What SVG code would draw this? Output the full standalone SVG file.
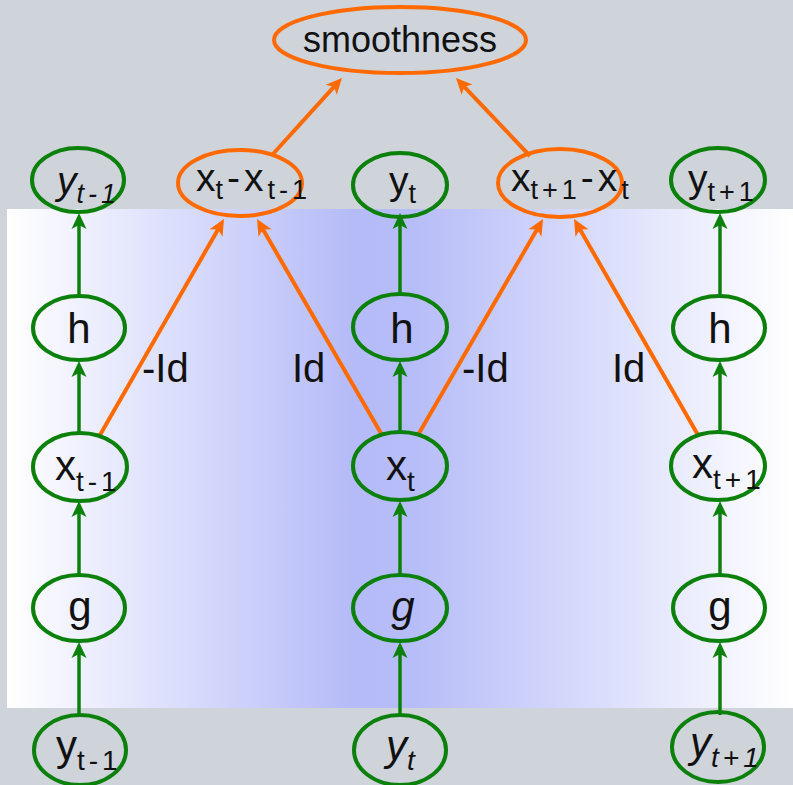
<svg xmlns="http://www.w3.org/2000/svg" width="793" height="785" viewBox="0 0 793 785">
  <style>
    .bg { fill: #CFD3DA; }
    .g-node { fill: none; stroke: #0B800B; stroke-width: 4; }
    .o-node { fill: none; stroke: #FF6A00; stroke-width: 4; }
    .g-edge { stroke: #0B800B; stroke-width: 3.5; fill: none; marker-end: url(#arrowG); }
    .o-edge { stroke: #FF6A00; stroke-width: 4; fill: none; marker-end: url(#arrowO); }
    text { font-family: "Liberation Sans", Arial, sans-serif; fill: #111111; }
    .big { font-size: 42px; }
    .top { font-size: 39px; }
    .sub { font-size: 28px; letter-spacing: 4px; }
    .subs { font-size: 27px; letter-spacing: 4px; }
    .it { font-style: italic; }
    .lbl { font-size: 40px; }
  </style>
  <defs>
    <linearGradient id="band" x1="0" y1="0" x2="1" y2="0">
      <stop offset="0" stop-color="#FFFFFF"/>
      <stop offset="0.44" stop-color="#B5BBF8"/>
      <stop offset="0.52" stop-color="#B7BDF8"/>
      <stop offset="1" stop-color="#FFFFFF"/>
    </linearGradient>
    <marker id="arrowG" markerUnits="userSpaceOnUse" viewBox="-10 -10 20 20" markerWidth="20" markerHeight="20" refX="0" refY="0" orient="auto">
      <path d="M8,0 L-8,-7.5 L-4,0 L-8,7.5 Z" fill="#0B800B"/>
    </marker>
    <marker id="arrowO" markerUnits="userSpaceOnUse" viewBox="-10 -10 20 20" markerWidth="20" markerHeight="20" refX="0" refY="0" orient="auto">
      <path d="M8,0 L-8,-7.5 L-4,0 L-8,7.5 Z" fill="#FF6A00"/>
    </marker>
  </defs>

  <!-- backdrop -->
  <rect class="bg" x="0" y="0" width="793" height="785"/>
  <rect x="7" y="209" width="786" height="499" fill="url(#band)"/>

  <!-- connectors -->
  <g id="edges">
    <!-- left column -->
    <line class="g-edge" x1="79" y1="715" x2="79" y2="650"/>
    <line class="g-edge" x1="79" y1="575" x2="79" y2="509"/>
    <line class="g-edge" x1="79" y1="432" x2="79" y2="369"/>
    <line class="g-edge" x1="79" y1="296" x2="79" y2="221"/>
    <!-- middle column -->
    <line class="g-edge" x1="400" y1="715" x2="400" y2="650"/>
    <line class="g-edge" x1="400" y1="575" x2="400" y2="509"/>
    <line class="g-edge" x1="400" y1="432" x2="400" y2="369"/>
    <line class="g-edge" x1="400" y1="296" x2="400" y2="221"/>
    <!-- right column -->
    <line class="g-edge" x1="720" y1="715" x2="720" y2="650"/>
    <line class="g-edge" x1="720" y1="575" x2="720" y2="509"/>
    <line class="g-edge" x1="720" y1="432" x2="720" y2="369"/>
    <line class="g-edge" x1="720" y1="296" x2="720" y2="221"/>
    <!-- differences -->
    <line class="o-edge" x1="100" y1="435" x2="220" y2="226"/>
    <line class="o-edge" x1="382" y1="435" x2="261" y2="226"/>
    <line class="o-edge" x1="418" y1="435" x2="539" y2="226"/>
    <line class="o-edge" x1="698" y1="435" x2="578" y2="226"/>
    <!-- into smoothness -->
    <line class="o-edge" x1="273" y1="154" x2="336.6" y2="83.9"/>
    <line class="o-edge" x1="530" y1="156" x2="461.5" y2="83.8"/>
  </g>

  <!-- edge weights -->
  <g id="weights">
    <text class="lbl" x="142" y="382">-Id</text>
    <text class="lbl" x="292" y="382">Id</text>
    <text class="lbl" x="462" y="382">-Id</text>
    <text class="lbl" x="612" y="382">Id</text>
  </g>

  <!-- objective -->
  <g id="smoothness">
    <ellipse class="o-node" cx="400" cy="40" rx="126" ry="33"/>
    <text class="top" x="400" y="52" font-size="36" text-anchor="middle" style="font-size:36px">smoothness</text>
  </g>

  <!-- top row -->
  <g id="y-out-prev">
    <ellipse class="g-node" cx="78" cy="180" rx="46" ry="32"/>
    <text class="top it" x="57" y="194">y<tspan class="subs" dy="9">t-1</tspan></text>
  </g>
  <g id="diff-prev">
    <ellipse class="o-node" cx="240" cy="183" rx="62" ry="33"/>
    <text class="top" x="196" y="191">x<tspan class="subs" dy="8">t</tspan><tspan dy="-8" letter-spacing="4">-x</tspan><tspan class="subs" dy="8">t-1</tspan></text>
  </g>
  <g id="y-out-cur">
    <ellipse class="g-node" cx="400" cy="185" rx="47" ry="32"/>
    <text class="top" x="389" y="194">y<tspan class="subs" dy="9">t</tspan></text>
  </g>
  <g id="diff-next">
    <ellipse class="o-node" cx="560" cy="183" rx="62" ry="34"/>
    <text class="top" x="511" y="191">x<tspan class="subs" dy="8">t+1</tspan><tspan dy="-8" letter-spacing="4">-x</tspan><tspan class="subs" dy="8">t</tspan></text>
  </g>
  <g id="y-out-next">
    <ellipse class="g-node" cx="718" cy="180" rx="47" ry="32"/>
    <text class="top" x="688" y="192">y<tspan class="subs" dy="9">t+1</tspan></text>
  </g>

  <!-- h row -->
  <g id="h-prev">
    <ellipse class="g-node" cx="79" cy="328" rx="46" ry="32"/>
    <text class="big" x="79" y="343" text-anchor="middle">h</text>
  </g>
  <g id="h-cur">
    <ellipse class="g-node" cx="400" cy="327" rx="47" ry="33"/>
    <text class="big" x="402" y="343" text-anchor="middle">h</text>
  </g>
  <g id="h-next">
    <ellipse class="g-node" cx="719" cy="328" rx="46" ry="32"/>
    <text class="big" x="720" y="343" text-anchor="middle">h</text>
  </g>

  <!-- x row -->
  <g id="x-prev">
    <ellipse class="g-node" cx="80" cy="467" rx="47" ry="34"/>
    <text class="big" x="55" y="480">x<tspan class="sub" dy="11">t-1</tspan></text>
  </g>
  <g id="x-cur">
    <ellipse class="g-node" cx="400" cy="466" rx="47" ry="34"/>
    <text class="big" x="386" y="480">x<tspan class="sub" dy="11">t</tspan></text>
  </g>
  <g id="x-next">
    <ellipse class="g-node" cx="718" cy="466" rx="47" ry="34"/>
    <text class="big" x="692" y="478">x<tspan class="sub" dy="11">t+1</tspan></text>
  </g>

  <!-- g row -->
  <g id="g-prev">
    <ellipse class="g-node" cx="79" cy="608" rx="46" ry="33"/>
    <text class="big" x="80" y="621" text-anchor="middle">g</text>
  </g>
  <g id="g-cur">
    <ellipse class="g-node" cx="400" cy="608" rx="47" ry="33"/>
    <text class="big it" x="403" y="621" text-anchor="middle">g</text>
  </g>
  <g id="g-next">
    <ellipse class="g-node" cx="719" cy="608" rx="46" ry="33"/>
    <text class="big" x="720" y="621" text-anchor="middle">g</text>
  </g>

  <!-- bottom row -->
  <g id="y-in-prev">
    <ellipse class="g-node" cx="80" cy="750" rx="46" ry="35"/>
    <text class="big" x="56" y="760">y<tspan class="sub" dy="10">t-1</tspan></text>
  </g>
  <g id="y-in-cur">
    <ellipse class="g-node" cx="400" cy="750" rx="46" ry="35"/>
    <text class="big it" x="386" y="760">y<tspan class="sub" dy="10">t</tspan></text>
  </g>
  <g id="y-in-next">
    <ellipse class="g-node" cx="718" cy="747" rx="46" ry="35"/>
    <text class="big it" x="690" y="757">y<tspan class="sub" dy="10">t+1</tspan></text>
  </g>
</svg>
